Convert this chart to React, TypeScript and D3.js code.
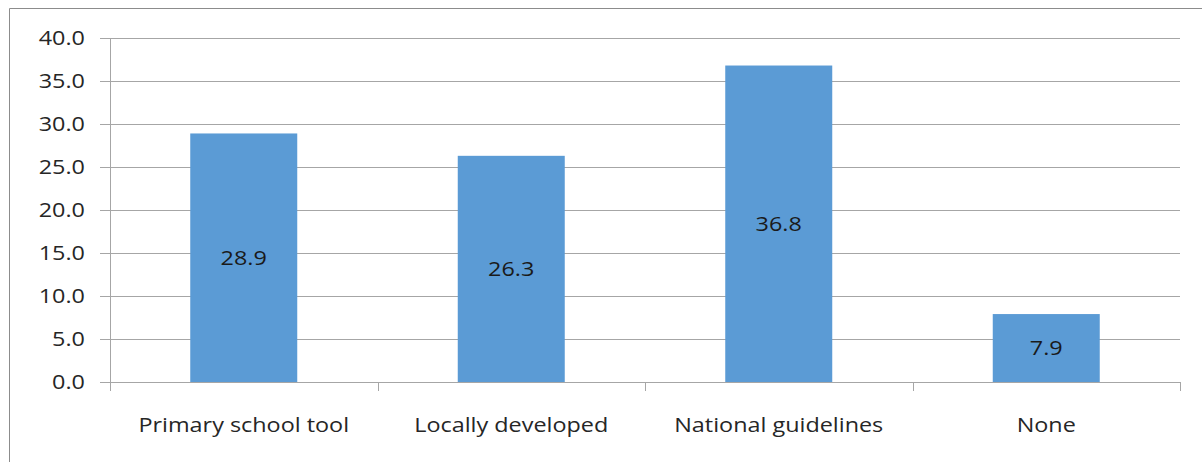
import React, { useEffect, useRef } from 'react';
import * as d3 from 'd3';

const categories = ['Primary school tool', 'Locally developed', 'National guidelines', 'None'];
const values = [28.9, 26.3, 36.8, 7.9];
const yTicks = [0, 5, 10, 15, 20, 25, 30, 35, 40];

const App = () => {
  const svgRef = useRef<SVGSVGElement>(null);

  useEffect(() => {
    const svgWidth = 1202;
    const svgHeight = 462;
    const margin = { top: 38, right: 22, bottom: 80, left: 110 };
    const width = svgWidth - margin.left - margin.right;
    const height = 382 - margin.top;
    const font = '"Open Sans", sans-serif';
    const stretch = 1.17; // source text looks horizontally stretched

    const svg = d3.select(svgRef.current)
      .attr('width', svgWidth)
      .attr('height', svgHeight);
    svg.selectAll('*').remove();

    // outer frame (runs off right and bottom edges)
    svg.append('path')
      .attr('d', `M9.5,${svgHeight + 2}V8.5H${svgWidth + 2}`)
      .attr('fill', 'none')
      .attr('stroke', '#8c8c8c')
      .attr('stroke-width', 1);

    const xScale = d3.scaleBand()
      .domain(categories)
      .range([0, width]);

    const yScale = d3.scaleLinear()
      .domain([0, 40])
      .range([height, 0]);

    const chart = svg.append('g')
      .attr('transform', `translate(${margin.left}, ${margin.top})`);

    // gridlines
    chart.selectAll('.grid')
      .data(yTicks)
      .enter()
      .append('line')
      .attr('x1', -10)
      .attr('x2', width)
      .attr('y1', d => Math.round(yScale(d)) + 0.5)
      .attr('y2', d => Math.round(yScale(d)) + 0.5)
      .attr('stroke', '#a6a6a6');

    // y tick labels
    chart.selectAll('.ylab')
      .data(yTicks)
      .enter()
      .append('text')
      .attr('transform', d => `translate(-25, ${yScale(d)}) scale(${stretch}, 1)`)
      .attr('dy', '0.36em')
      .attr('text-anchor', 'end')
      .attr('font-family', font)
      .attr('font-size', 20)
      .attr('fill', '#262626')
      .text(d => d.toFixed(1));

    // bars
    const barW = xScale.bandwidth() * 0.4;
    chart.selectAll('.bar')
      .data(values)
      .enter()
      .append('rect')
      .attr('x', (d, i) => xScale(categories[i])! + (xScale.bandwidth() - barW) / 2)
      .attr('y', d => yScale(d))
      .attr('width', barW)
      .attr('height', d => height - yScale(d))
      .attr('fill', '#5b9bd5');

    // y axis line
    chart.append('line')
      .attr('x1', 0.5).attr('x2', 0.5)
      .attr('y1', 0).attr('y2', height)
      .attr('stroke', '#a6a6a6');

    // x axis ticks at category boundaries
    const bounds = categories.map(c => xScale(c)!).concat([width]);
    chart.selectAll('.xtick')
      .data(bounds)
      .enter()
      .append('line')
      .attr('x1', d => Math.round(d) + 0.5)
      .attr('x2', d => Math.round(d) + 0.5)
      .attr('y1', height)
      .attr('y2', height + 9)
      .attr('stroke', '#a6a6a6');

    // value labels
    chart.selectAll('.vlab')
      .data(values)
      .enter()
      .append('text')
      .attr('transform', (d, i) =>
        `translate(${xScale(categories[i])! + xScale.bandwidth() / 2}, ${(yScale(d) + height) / 2}) scale(${stretch}, 1)`)
      .attr('dy', '0.36em')
      .attr('text-anchor', 'middle')
      .attr('font-family', font)
      .attr('font-size', 20)
      .attr('fill', '#1a1a1a')
      .text(d => d.toFixed(1));

    // category labels
    chart.selectAll('.xlab')
      .data(categories)
      .enter()
      .append('text')
      .attr('transform', d =>
        `translate(${xScale(d)! + xScale.bandwidth() / 2}, ${height + 50}) scale(${stretch}, 1)`)
      .attr('text-anchor', 'middle')
      .attr('font-family', font)
      .attr('font-size', 20)
      .attr('fill', '#262626')
      .text(d => d);
  }, []);

  return (
    <svg ref={svgRef} style={{ position: 'absolute', left: 0, top: 0 }}></svg>
  );
};

export default App;
